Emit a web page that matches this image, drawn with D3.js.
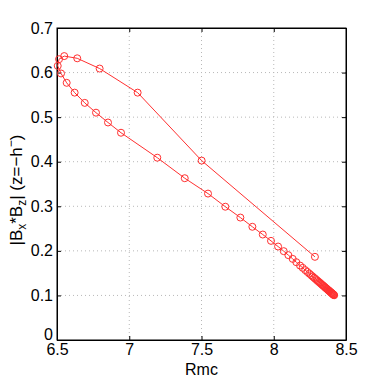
<!DOCTYPE html>
<html><head><meta charset="utf-8">
<script src="https://cdn.jsdelivr.net/npm/d3@7"></script>
<style>body{margin:0;background:#fff;} text{font-family:"Liberation Sans",Arial,sans-serif;}</style>
</head><body>
<svg id="c" width="382" height="382"></svg>
<script>
const rmc = [8.285,7.501,7.058,6.795,6.640,6.550,6.514,6.505,6.528,6.567,6.622,6.692,6.770,6.853,6.943,7.194,7.384,7.545,7.665,7.769,7.852,7.924,7.981,8.030,8.069,8.101,8.131,8.156,8.182,8.200,8.218,8.233,8.246,8.258,8.269,8.279,8.288,8.297,8.305,8.313,8.320,8.327,8.334,8.340,8.346,8.352,8.357,8.362,8.367,8.372,8.377,8.381,8.385,8.389,8.393,8.397,8.400,8.403,8.406,8.409,8.412,8.414,8.416,8.418];
const bxbz = [0.1866,0.4025,0.555,0.609,0.632,0.637,0.630,0.615,0.598,0.577,0.555,0.532,0.510,0.488,0.465,0.409,0.363,0.3285,0.299,0.2747,0.254,0.2366,0.2224,0.2097,0.1993,0.1904,0.182,0.1746,0.167,0.1619,0.1568,0.1526,0.1490,0.1456,0.1425,0.1396,0.1371,0.1346,0.1323,0.1301,0.1281,0.1261,0.1241,0.1224,0.1208,0.1191,0.1177,0.1162,0.1148,0.1134,0.1120,0.1109,0.1098,0.1086,0.1075,0.1064,0.1055,0.1047,0.1038,0.1030,0.1021,0.1016,0.1010,0.1004];
const xTicks = [6.5,7,7.5,8,8.5];
const yTicks = [0,0.1,0.2,0.3,0.4,0.5,0.6,0.7];
const xLabels = ["6.5","7","7.5","8","8.5"];
const yLabels = ["0","0.1","0.2","0.3","0.4","0.5","0.6","0.7"];

const L=57,R=346,T=28,B=340;
const FS=16;
const svg=d3.select("#c");
const x=d3.scaleLinear().domain([6.5,8.5]).range([L,R]);
const y=d3.scaleLinear().domain([0,0.7]).range([B,T]);
const g=svg.append("g");
// grid
g.selectAll(".gx").data(xTicks.slice(1,-1)).enter().append("line")
 .attr("x1",d=>x(d)).attr("x2",d=>x(d)).attr("y1",T).attr("y2",B)
 .attr("stroke","#b8b8b8").attr("stroke-width",1).attr("stroke-dasharray","1,3");
g.selectAll(".gy").data(yTicks.slice(1,-1)).enter().append("line")
 .attr("y1",d=>y(d)).attr("y2",d=>y(d)).attr("x1",L).attr("x2",R)
 .attr("stroke","#b8b8b8").attr("stroke-width",1).attr("stroke-dasharray","1,3");
// axes
const xa=d3.axisBottom(x).tickValues(xTicks).tickFormat((d,i)=>xLabels[i]).tickSizeInner(-4).tickSizeOuter(0).tickPadding(4);
const ya=d3.axisLeft(y).tickValues(yTicks).tickFormat((d,i)=>yLabels[i]).tickSizeInner(-4).tickSizeOuter(0).tickPadding(4);
const xt=d3.axisTop(x).tickValues(xTicks).tickFormat("").tickSizeInner(-4).tickSizeOuter(0);
const yr=d3.axisRight(y).tickValues(yTicks).tickFormat("").tickSizeInner(-4).tickSizeOuter(0);
const gx=g.append("g").attr("transform",`translate(0,${B})`).call(xa);
const gy=g.append("g").attr("transform",`translate(${L},0)`).call(ya);
g.append("g").attr("transform",`translate(0,${T})`).call(xt);
g.append("g").attr("transform",`translate(${R},0)`).call(yr);
svg.selectAll(".domain").attr("stroke","#000");
svg.selectAll(".tick line").attr("stroke","#000");
gx.selectAll("text").attr("font-size",FS).attr("fill","#000").attr("font-family","Liberation Sans, Arial, sans-serif").attr("y",15).attr("dy",0);
gy.selectAll("text").attr("font-size",FS).attr("fill","#000").attr("font-family","Liberation Sans, Arial, sans-serif")
 .attr("dy",(d)=>d===0?"-0.05em":"0.32em");
g.append("rect").attr("x",L).attr("y",T).attr("width",R-L).attr("height",B-T).attr("fill","none").attr("stroke","#000").attr("stroke-width",1);
// data
const pts=rmc.map((v,i)=>[v,bxbz[i]]);
g.append("path").datum(pts).attr("fill","none").attr("stroke","#ff3030").attr("stroke-width",1)
 .attr("d",d3.line().x(d=>x(d[0])).y(d=>y(d[1])));
g.selectAll(".m").data(pts).enter().append("circle")
 .attr("cx",d=>x(d[0])).attr("cy",d=>y(d[1])).attr("r",3.5)
 .attr("fill","none").attr("stroke","#ff3030").attr("stroke-width",1);
// labels
svg.append("text").attr("x",(L+R)/2).attr("y",375).attr("text-anchor","middle").attr("font-size",FS).text("Rmc");
const yl=svg.append("text").attr("transform",`translate(22,${190}) rotate(-90)`).attr("text-anchor","middle").attr("font-size",17);
yl.append("tspan").text("|B");
yl.append("tspan").attr("font-size",12).attr("dy",4).text("x");
yl.append("tspan").attr("dy",-4).text("*B");
yl.append("tspan").attr("font-size",12).attr("dy",4).text("z");
yl.append("tspan").attr("dy",-4).text("| (z=\u2212h");
yl.append("tspan").attr("font-size",12).attr("dy",-7).text("\u2212");
yl.append("tspan").attr("dy",7).text(")");
</script>
</body></html>
